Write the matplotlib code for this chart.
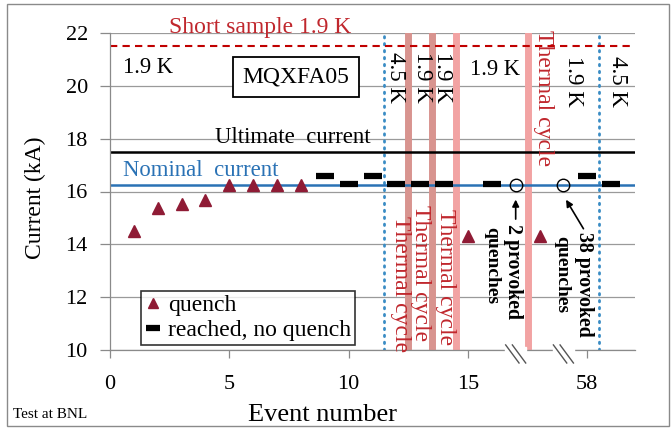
import matplotlib
matplotlib.use("Agg")
import matplotlib.pyplot as plt
from matplotlib.patches import Rectangle
import matplotlib.transforms as mtransforms

plt.rcParams['font.family'] = ['Liberation Serif', 'DejaVu Serif']

# ---- data ----
quench_x = [1, 2, 3, 4, 5, 6, 7, 8, 15, 18]
quench_y = [14.5, 15.38, 15.52, 15.68, 16.25, 16.25, 16.25, 16.25, 14.3, 14.3]
reached_x = [9, 10, 11, 12, 13, 14, 16, 20, 21]
reached_y = [16.6, 16.3, 16.6, 16.3, 16.3, 16.3, 16.3, 16.6, 16.3]
provoked_x = [17, 19]
provoked_y = [16.25, 16.25]
short_sample = 21.5
ultimate = 17.5
nominal = 16.23
thermal_cycles = [12.5, 13.5, 14.5, 17.5]
temp_changes = [11.5, 20.5]
breaks = [17.0, 19.0]
xticks = [0, 5, 10, 15, 20]
xticklabels = ['0', '5', '10', '15', '58']
yticks = [10, 12, 14, 16, 18, 20, 22]

W, H = 672, 429
fig = plt.figure(figsize=(W / 100, H / 100), dpi=100)
ax = fig.add_axes([110 / W, (H - 350) / H, (635 - 110) / W, (350 - 33) / H])
ax.set_xlim(0, 22)
ax.set_ylim(10, 22)

# outer frame
fig.patches.append(Rectangle((7 / W, 3 / H), 662 / W, 422 / H, transform=fig.transFigure,
                             fill=False, edgecolor='#8a8a8a', lw=1.0))

# grid
ax.set_yticks(yticks)
ax.set_xticks(xticks)
ax.set_xticklabels(xticklabels)
ax.yaxis.grid(True, color='#9a9a9a', lw=0.9)
ax.set_axisbelow(True)
for s in ['top', 'right']:
    ax.spines[s].set_visible(False)
for s in ['left', 'bottom']:
    ax.spines[s].set_color('#8a8a8a')
    ax.spines[s].set_linewidth(0.9)
ax.tick_params(axis='y', direction='out', length=7, width=0.9, color='#8a8a8a', labelsize=16, pad=9)
ax.tick_params(axis='x', direction='out', length=6, width=0.9, color='#8a8a8a', labelsize=16, pad=12)

# reference lines
ax.axhline(short_sample, color='#c00000', lw=1.5, ls=(0, (3.5, 2.5)), zorder=2)
ax.axhline(ultimate, color='black', lw=1.8, zorder=2)
ax.axhline(nominal, color='#2a72b5', lw=1.8, zorder=2)

tc_colors = ['#d8948f', '#d8948f', '#f2a3a3', '#f2a3a3']
for xv, c in zip(thermal_cycles, tc_colors):
    ax.axvline(xv, color=c, lw=5, zorder=1.5)
for xv in temp_changes:
    ax.axvline(xv, color='#3a8cc4', lw=2.0, ls=(0, (0.5, 2.0)), dash_capstyle='round', zorder=1.6)

# data
ax.plot(quench_x, quench_y, ls='none', marker='^', ms=9, color='#8f1b35', zorder=5, label='quench')
ax.plot(reached_x, reached_y, ls='none', marker='_', ms=13, mew=4.5, color='black', zorder=5,
        label='reached, no quench')
ax.plot(provoked_x, provoked_y, ls='none', marker='o', ms=9, mfc='none', mec='black', mew=1.0, zorder=5)

# annotations for provoked quenches
ax.annotate('', xy=(provoked_x[0], 15.8), xytext=(provoked_x[0], 14.85),
            arrowprops=dict(arrowstyle='-|>', color='black', lw=1.2, mutation_scale=10))
ax.annotate('', xy=(provoked_x[1] + 0.05, 15.78), xytext=(provoked_x[1] + 0.9, 14.5),
            arrowprops=dict(arrowstyle='-|>', color='black', lw=1.2, mutation_scale=10))
ax.text(provoked_x[0] - 0.12, 12.99, '2 provoked', rotation=-90, ha='center', va='center',
        fontsize=14.3, fontweight='bold')
ax.text(provoked_x[0] - 1.0, 13.18, 'quenches', rotation=-90, ha='center', va='center',
        fontsize=14, fontweight='bold')
ax.text(provoked_x[1] + 0.86, 12.5, '38 provoked', rotation=-90, ha='center', va='center',
        fontsize=14.3, fontweight='bold')
ax.text(provoked_x[1] - 0.05, 12.84, 'quenches', rotation=-90, ha='center', va='center',
        fontsize=14, fontweight='bold')

# texts
red = '#c0272d'
ax.text(6.3, 22.2, 'Short sample 1.9 K', color=red, fontsize=17, ha='center', va='center', clip_on=False)
ax.text(1.6, 20.68, '1.9 K', fontsize=16.3, ha='center', va='center')
ax.text(7.78, 20.33, 'MQXFA05', fontsize=17, ha='center', va='center',
        bbox=dict(boxstyle='square,pad=0.4', fc='white', ec='black', lw=1.3))
ax.text(7.66, 18.05, 'Ultimate  current', fontsize=16.4, ha='center', va='center')
ax.text(3.8, 16.8, 'Nominal  current', fontsize=16.4, ha='center', va='center', color='#2a72b5')

ax.text(11.97, 20.32, '4.5 K', rotation=-90, fontsize=16.5, ha='center', va='center')
ax.text(13.1, 20.32, '1.9 K', rotation=-90, fontsize=16.5, ha='center', va='center')
ax.text(13.93, 20.32, '1.9 K', rotation=-90, fontsize=16.5, ha='center', va='center')
ax.text(16.15, 20.6, '1.9 K', fontsize=16.3, ha='center', va='center')
ax.text(18.16, 19.54, 'Thermal cycle', rotation=-90, fontsize=17, ha='center', va='center', color=red)
ax.text(19.41, 20.15, '1.9 K', rotation=-90, fontsize=16.5, ha='center', va='center')
ax.text(21.26, 20.15, '4.5 K', rotation=-90, fontsize=16.5, ha='center', va='center')

ax.text(12.18, 12.5, 'Thermal cycle', rotation=-90, fontsize=17, ha='center', va='center', color=red,
        clip_on=False, zorder=6)
ax.text(13.0, 12.9, 'Thermal cycle', rotation=-90, fontsize=17, ha='center', va='center', color=red, zorder=6)
ax.text(14.06, 12.76, 'Thermal cycle', rotation=-90, fontsize=17, ha='center', va='center', color=red, zorder=6)

# axis break marks
trans = mtransforms.blended_transform_factory(ax.transData, ax.transAxes)
for bx in breaks:
    ax.add_patch(Rectangle((bx - 0.45, -0.01), 0.9, 0.02, transform=trans, color='white',
                           clip_on=False, zorder=3))
    for dx in (-0.14, 0.14):
        ax.plot([bx + dx - 0.28, bx + dx + 0.28], [0.016, -0.041], transform=trans, color='#555555',
                lw=1.0, clip_on=False, zorder=4)

ax.set_ylabel('Current (kA)', fontsize=17)
ax.yaxis.set_label_coords((35 - 110) / 525, (350 - 198) / 317)
ax.yaxis.label.set_va('center')
ax.set_xlabel('Event number', fontsize=19)
ax.xaxis.set_label_coords((322 - 110) / 525, (350 - 415) / 317)
ax.xaxis.label.set_va('center')
fig.text(13 / W, 1 - 415 / H, 'Test at BNL', fontsize=11, ha='left', va='center')

leg = ax.legend(loc='lower left', bbox_to_anchor=((141 - 110) / 525, (350 - 345) / 317), fontsize=17,
                frameon=True, fancybox=False, edgecolor='black', handlelength=0.7, handletextpad=0.3,
                borderpad=0.15, labelspacing=0.15, borderaxespad=0, markerscale=0.75)
leg.get_frame().set_linewidth(1.2)

fig.savefig('out.png', dpi=100)
